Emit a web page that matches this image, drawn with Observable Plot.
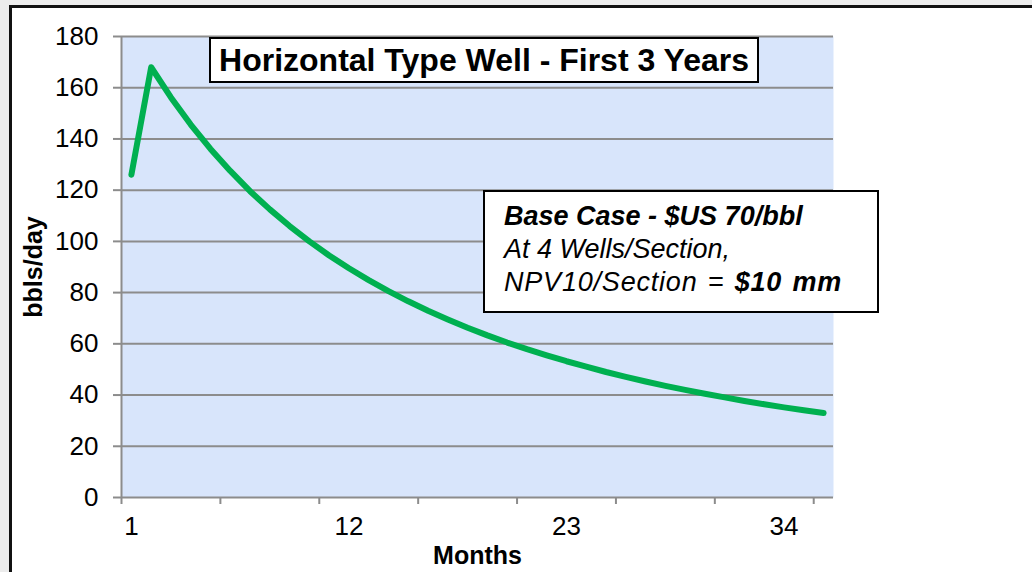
<!DOCTYPE html>
<html>
<head>
<meta charset="utf-8">
<script src="https://cdn.jsdelivr.net/npm/d3@7"></script>
<script src="https://cdn.jsdelivr.net/npm/@observablehq/plot@0.6"></script>
<style>
  html, body { margin: 0; padding: 0; width: 1032px; height: 572px; overflow: hidden; background: #ececec; font-family: "Liberation Sans", Arial, sans-serif; }
  #frame { position: absolute; left: 9px; top: 5px; width: 1200px; height: 800px; border: 3px solid #111; background: #fff; box-sizing: border-box; }
  #chart { position: absolute; left: 0; top: 0; }
  .box { position: absolute; background: #fff; border: 2px solid #000; box-sizing: border-box; color: #000; }
  #title { left: 209px; top: 37px; width: 550px; height: 46px; font-weight: bold; font-size: 32px; text-align: center; line-height: 42px; white-space: nowrap; }
  #note { left: 483px; top: 190px; width: 396px; height: 123px; font-size: 27px; font-style: italic; line-height: 33px; padding: 8px 0 0 19px; white-space: nowrap; }
  #note .l3 { letter-spacing: 0.8px; word-spacing: 2px; }
</style>
</head>
<body>
<div id="frame"></div>
<div id="chart"></div>
<div class="box" id="title"></div>
<div class="box" id="note"></div>
<script>
const months = [1,2,3,4,5,6,7,8,9,10,11,12,13,14,15,16,17,18,19,20,21,22,23,24,25,26,27,28,29,30,31,32,33,34,35,36];
const bblsPerDay = [126,168,156.2,145.6,136.1,127.5,119.6,112.5,106,100,94.5,89.5,84.9,80.6,76.6,72.9,69.5,66.3,63.3,60.5,57.9,55.5,53.2,51.1,49,47.1,45.3,43.6,42,40.5,39.1,37.7,36.4,35.2,34.1,33];
const xTickLabels = [1, 12, 23, 34];
const yTicks = [0, 20, 40, 60, 80, 100, 120, 140, 160, 180];
const titleText = "Horizontal Type Well - First 3 Years";
const xLabel = "Months";
const yLabel = "bbls/day";
const noteLines = ["Base Case - $US 70/bbl", "At 4 Wells/Section,", "NPV10/Section = ", "$10 mm"];

const data = months.map((m, i) => ({month: m, value: bblsPerDay[i]}));
// category boundaries every 5 months (Excel-style category axis)
const xTickMarks = d3.range(0, 36, 5).map(k => k + 0.5);

const grid = "#8c8c8c";
const chart = Plot.plot({
  width: 1032,
  height: 572,
  marginLeft: 121,
  marginRight: 199,
  marginTop: 36,
  marginBottom: 75,
  style: {fontFamily: "'Liberation Sans', Arial, sans-serif", color: "#000", background: "transparent", overflow: "visible"},
  x: {type: "linear", domain: [0.5, 36.5]},
  y: {domain: [0, 180]},
  marks: [
    Plot.frame({fill: "#d8e5fb", stroke: null}),
    Plot.gridY(yTicks.filter(d => d > 0), {stroke: grid, strokeOpacity: 1, strokeWidth: 2}),
    Plot.ruleX([0.5], {stroke: grid, strokeWidth: 2}),
    Plot.ruleY([0], {stroke: grid, strokeWidth: 2}),
    Plot.axisY(yTicks, {tickSize: 8, tickPadding: 15, fontSize: 26, stroke: grid, strokeWidth: 2, label: null, fill: "#000"}),
    Plot.axisX(xTickMarks, {tickSize: 7, tickFormat: () => "", stroke: grid, strokeWidth: 2, label: null}),
    Plot.axisX(xTickLabels, {tickSize: 0, tickPadding: 19, fontSize: 26, label: null, fill: "#000"}),
    Plot.text([yLabel], {frameAnchor: "left", textAnchor: "middle", lineAnchor: "middle", dx: -88, rotate: -90, fontSize: 25, fontWeight: "bold", fill: "#000"}),
    Plot.text([xLabel], {frameAnchor: "bottom", lineAnchor: "middle", dy: 58, fontSize: 25, fontWeight: "bold", fill: "#000"}),
    Plot.line(data, {x: "month", y: "value", stroke: "#00b050", strokeWidth: 6, strokeLinecap: "round", strokeLinejoin: "round"})
  ]
});
document.getElementById("chart").appendChild(chart);
document.getElementById("title").textContent = titleText;
const note = document.getElementById("note");
note.innerHTML = "";
const l1 = document.createElement("div"); l1.style.fontWeight = "bold"; l1.textContent = noteLines[0]; note.appendChild(l1);
const l2 = document.createElement("div"); l2.textContent = noteLines[1]; note.appendChild(l2);
const l3 = document.createElement("div"); l3.className = "l3"; l3.textContent = noteLines[2];
const b = document.createElement("b"); b.textContent = noteLines[3]; l3.appendChild(b); note.appendChild(l3);
</script>
</body>
</html>
